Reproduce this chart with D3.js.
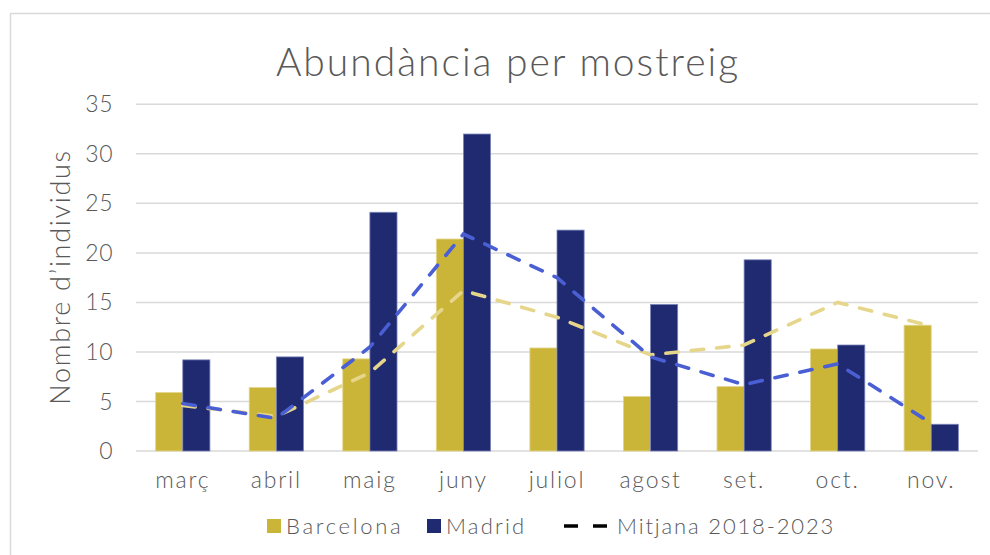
<!DOCTYPE html>
<html>
<head>
<meta charset="utf-8">
<script src="https://cdn.jsdelivr.net/npm/d3@7"></script>
<style>
  body { margin: 0; background: #fff; }
  text { font-family: Lato, "Open Sans", sans-serif; font-weight: 300; fill: #595959; }
</style>
</head>
<body>
<svg id="chart" width="990" height="555"></svg>
<script>
var width = 990;
var height = 555;

// data
var months = ["març", "abril", "maig", "juny", "juliol", "agost", "set.", "oct.", "nov."];
var barcelona = [5.9, 6.4, 9.3, 21.4, 10.4, 5.5, 6.5, 10.3, 12.7];
var madrid = [9.2, 9.5, 24.1, 32.0, 22.3, 14.8, 19.3, 10.7, 2.7];
var mitjanaBarcelona = [4.6, 3.5, 7.9, 16.2, 13.5, 9.7, 10.7, 15.0, 12.6];
var mitjanaMadrid = [4.8, 3.3, 10.5, 21.9, 17.5, 9.5, 6.7, 8.8, 2.8];
var yTicks = [0, 5, 10, 15, 20, 25, 30, 35];

var colBar = "#cbb539";
var colMad = "#1f2a70";
var colLineBar = "#e6d68b";
var colLineMad = "#4a5fd3";

var svg = d3.select("#chart");

// chart border
svg.append("rect")
  .attr("x", 10.5).attr("y", 13.5)
  .attr("width", 1000).attr("height", 600)
  .attr("fill", "none")
  .attr("stroke", "#d9d9d9")
  .attr("stroke-width", 1.5);

var x = d3.scaleBand()
  .domain(months)
  .range([136, 978])
  .paddingInner(0.42)
  .paddingOuter(0.21);

var xSub = d3.scaleBand()
  .domain(["Barcelona", "Madrid"])
  .range([0, x.bandwidth()]);

var y = d3.scaleLinear()
  .domain([0, 35])
  .range([451, 104.3]);

// gridlines
svg.append("g")
  .selectAll("line")
  .data(yTicks)
  .enter().append("line")
  .attr("x1", 136).attr("x2", 978)
  .attr("y1", function (d) { return y(d); })
  .attr("y2", function (d) { return y(d); })
  .attr("stroke", "#d9d9d9")
  .attr("stroke-width", 1.5);

// y axis labels
svg.append("g")
  .selectAll("text")
  .data(yTicks)
  .enter().append("text")
  .attr("x", 113)
  .attr("y", function (d) { return y(d); })
  .attr("dy", "0.35em")
  .attr("text-anchor", "end")
  .style("font-size", "23px")
  .style("letter-spacing", "0.5px")
  .text(function (d) { return d; });

svg.append("text")
  .attr("transform", "translate(70," + 277 + ") rotate(-90)")
  .attr("text-anchor", "middle")
  .style("font-size", "27px")
  .style("letter-spacing", "1.7px")
  .text("Nombre d’individus");

// x labels
svg.append("g")
  .selectAll("text")
  .data(months)
  .enter().append("text")
  .attr("x", function (d) { return x(d) + x.bandwidth() / 2; })
  .attr("y", 488)
  .attr("text-anchor", "middle")
  .style("font-size", "23px")
  .style("letter-spacing", "1.8px")
  .text(function (d) { return d; });

// bars
var groups = svg.append("g")
  .selectAll("g")
  .data(months)
  .enter().append("g")
  .attr("transform", function (d) { return "translate(" + x(d) + ",0)"; });

groups.append("rect")
  .attr("x", xSub("Barcelona"))
  .attr("width", xSub.bandwidth())
  .attr("y", function (d, i) { return y(barcelona[i]); })
  .attr("height", function (d, i) { return y(0) - y(barcelona[i]); })
  .attr("fill", colBar)
  .attr("stroke", "#e3d58a")
  .attr("stroke-width", 0.8);

groups.append("rect")
  .attr("x", xSub("Madrid"))
  .attr("width", xSub.bandwidth())
  .attr("y", function (d, i) { return y(madrid[i]); })
  .attr("height", function (d, i) { return y(0) - y(madrid[i]); })
  .attr("fill", colMad)
  .attr("stroke", "#7d86bb")
  .attr("stroke-width", 0.8);

// average lines
var line = d3.line()
  .x(function (d, i) { return x(months[i]) + x.bandwidth() / 2; })
  .y(function (d) { return y(d); });

svg.append("path")
  .datum(mitjanaBarcelona)
  .attr("d", line)
  .attr("fill", "none")
  .attr("stroke", colLineBar)
  .attr("stroke-width", 3.6)
  .attr("stroke-linecap", "round")
  .attr("stroke-dasharray", "12.5,13");

svg.append("path")
  .datum(mitjanaMadrid)
  .attr("d", line)
  .attr("fill", "none")
  .attr("stroke", colLineMad)
  .attr("stroke-width", 3.6)
  .attr("stroke-linecap", "round")
  .attr("stroke-dasharray", "12.5,13");

// title
svg.append("text")
  .attr("x", 508)
  .attr("y", 76)
  .attr("text-anchor", "middle")
  .style("font-size", "39px")
  .style("letter-spacing", "2px")
  .text("Abundància per mostreig");

// legend
var legend = svg.append("g");
legend.append("rect")
  .attr("x", 267).attr("y", 519).attr("width", 14).attr("height", 14)
  .attr("fill", colBar);
legend.append("text")
  .attr("x", 286).attr("y", 534)
  .style("font-size", "22px").style("letter-spacing", "2.7px")
  .text("Barcelona");
legend.append("rect")
  .attr("x", 427).attr("y", 519).attr("width", 14).attr("height", 14)
  .attr("fill", colMad);
legend.append("text")
  .attr("x", 446).attr("y", 534)
  .style("font-size", "22px").style("letter-spacing", "2.2px")
  .text("Madrid");
legend.append("line")
  .attr("x1", 564).attr("x2", 608)
  .attr("y1", 526).attr("y2", 526)
  .attr("stroke", "#000")
  .attr("stroke-width", 3.5)
  .attr("stroke-dasharray", "14,15");
legend.append("text")
  .attr("x", 617).attr("y", 534)
  .style("font-size", "22px").style("letter-spacing", "1.85px")
  .text("Mitjana 2018-2023");
</script>
</body>
</html>
